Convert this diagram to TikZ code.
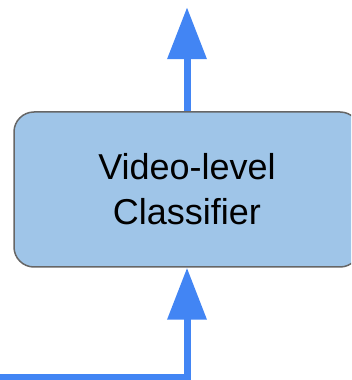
\documentclass[tikz,border=0pt]{standalone}
\usepackage{fontspec}
\setmainfont{Liberation Sans}
\usepackage{xcolor}
\usetikzlibrary{arrows.meta, positioning}

\definecolor{flowblue}{HTML}{4285F4}
\definecolor{boxfill}{HTML}{9FC5E8}
\definecolor{boxline}{HTML}{666666}

\begin{document}
\begin{tikzpicture}[
    x=1pt, y=1pt,
    block/.style={draw=boxline, fill=boxfill, line width=1.5pt, rectangle,
      rounded corners=20pt, minimum width=346pt, minimum height=155pt,
      align=center, font=\fontsize{36}{45}\selectfont},
    flow/.style={draw=flowblue, line width=7pt,
      -{Triangle[width=38pt, length=52pt]}}
]
\useasboundingbox (0,0) rectangle (351,380);
\clip (0,0) rectangle (351,380);
\node[block] (clf) at (187,190.5) {Video-level\\Classifier};
\coordinate[above=104pt of clf.north] (out);
\coordinate (in) at (-5,2.5);
% input comes in from the left, output leaves at the top
\draw[flow] (in) -| (clf.south);
\draw[flow] (clf.north) -- (out);
\end{tikzpicture}
\end{document}
